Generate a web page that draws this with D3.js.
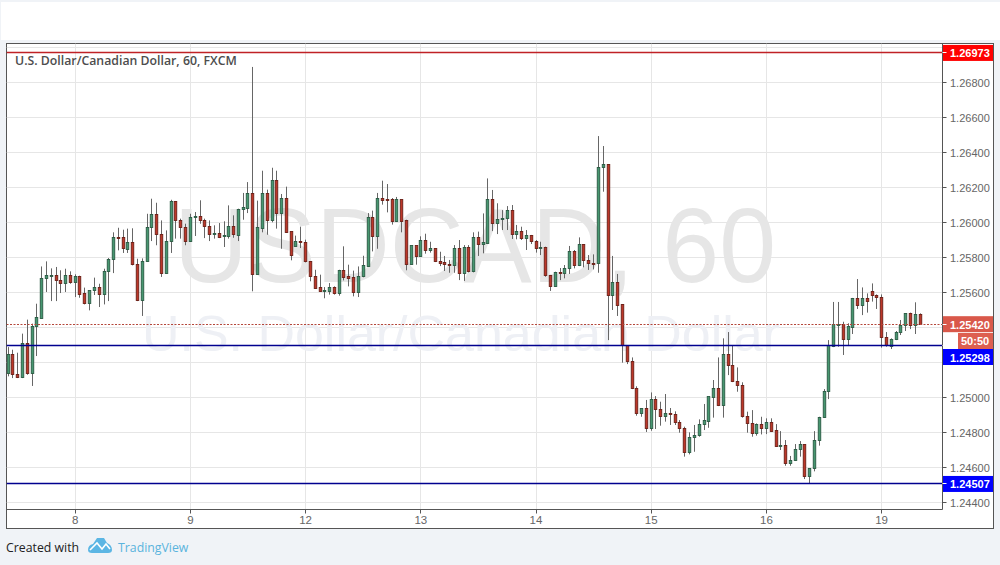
<!DOCTYPE html>
<html><head><meta charset="utf-8">
<script src="https://cdn.jsdelivr.net/npm/d3@7/dist/d3.min.js"></script>
<style>html,body{margin:0;padding:0;background:#f0f3f7;overflow:hidden}svg{display:block}</style>
</head><body><svg id="c" width="1000" height="565"></svg>
<script>
const opens=[
1.25141,1.25248,1.25131,1.25118,1.25309,1.25141,1.25404,1.25455,1.25680,1.25695,
1.25697,1.25669,1.25650,1.25697,1.25661,1.25691,1.25594,1.25541,1.25610,1.25629,
1.25592,1.25720,1.25789,1.25914,1.25914,1.25848,1.25886,1.25760,1.25554,1.25777,
1.25971,1.26046,1.25931,1.25709,1.25890,1.26120,1.26011,1.25971,1.25890,1.26027,
1.26034,1.26011,1.25979,1.25930,1.25937,1.25920,1.25922,1.25979,1.25928,1.26076,
1.26082,1.26164,1.25705,1.25968,1.26164,1.26013,1.26240,1.26053,1.26137,1.25947,
1.25865,1.25891,1.25884,1.25781,1.25695,1.25629,1.25610,1.25608,1.25629,1.25596,
1.25726,1.25691,1.25686,1.25602,1.25691,1.25750,1.26027,1.25922,1.26137,1.26131,
1.26131,1.26008,1.26131,1.26010,1.25762,1.25867,1.25808,1.25901,1.25840,1.25850,
1.25779,1.25770,1.25762,1.25754,1.25853,1.25709,1.25859,1.25720,1.25916,1.25874,
1.25880,1.26133,1.25994,1.26017,1.26023,1.26071,1.25931,1.25951,1.25909,1.25928,
1.25893,1.25851,1.25859,1.25699,1.25634,1.25716,1.25709,1.25737,1.25836,1.25754,
1.25876,1.25785,1.25768,1.25764,1.26314,1.26335,1.25583,1.25659,1.25530,1.25297,
1.25208,1.25053,1.24908,1.24939,1.24823,1.24990,1.24933,1.24891,1.24910,1.24905,
1.24859,1.24825,1.24686,1.24771,1.24783,1.24846,1.24863,1.25000,1.25055,1.24954,
1.25249,1.25185,1.25093,1.25071,1.24893,1.24853,1.24794,1.24849,1.24823,1.24859,
1.24813,1.24720,1.24728,1.24623,1.24640,1.24703,1.24733,1.24547,1.24594,1.24754,
1.24887,1.25034,1.25293,1.25417,1.25421,1.25331,1.25402,1.25564,1.25526,1.25568,
1.25606,1.25585,1.25573,1.25345,1.25295,1.25331,1.25371,1.25411,1.25482,1.25413,
1.25476];
const highs=[
1.25289,1.25274,1.25257,1.25366,1.25446,1.25423,1.25537,1.25750,1.25779,1.25739,
1.25747,1.25728,1.25737,1.25722,1.25705,1.25697,1.25629,1.25613,1.25686,1.25651,
1.25737,1.25798,1.25945,1.25971,1.25960,1.25966,1.25968,1.25794,1.25796,1.26051,
1.26137,1.26114,1.26013,1.25956,1.26131,1.26124,1.26023,1.25994,1.26051,1.26061,
1.26128,1.26023,1.26013,1.25985,1.25998,1.26008,1.26099,1.26042,1.26080,1.26170,
1.26232,1.26890,1.26126,1.26297,1.26189,1.26314,1.26297,1.26164,1.26206,1.25947,
1.25926,1.25977,1.25903,1.25781,1.25731,1.25703,1.25632,1.25655,1.25636,1.25731,
1.25865,1.25760,1.25726,1.25750,1.25811,1.26055,1.26069,1.26170,1.26240,1.26221,
1.26141,1.26147,1.26131,1.26017,1.25867,1.25867,1.25922,1.25937,1.25891,1.25853,
1.25834,1.25810,1.25787,1.25872,1.25901,1.25872,1.25872,1.25945,1.25949,1.26053,
1.26253,1.26187,1.26111,1.26072,1.26095,1.26101,1.25987,1.25977,1.25958,1.25930,
1.25901,1.25891,1.25863,1.25701,1.25720,1.25741,1.25758,1.25867,1.25844,1.25916,
1.25876,1.25815,1.25819,1.26495,1.26438,1.26335,1.25810,1.25707,1.25535,1.25297,
1.25230,1.25065,1.24939,1.24987,1.25030,1.25009,1.24977,1.25021,1.24941,1.24922,
1.24872,1.24834,1.24802,1.24844,1.24876,1.24964,1.25004,1.25101,1.25230,1.25339,
1.25375,1.25297,1.25173,1.25088,1.24920,1.24929,1.24853,1.24891,1.24882,1.24882,
1.24849,1.24809,1.24758,1.24667,1.24735,1.24752,1.24733,1.24596,1.24809,1.24891,
1.25049,1.25329,1.25547,1.25547,1.25434,1.25425,1.25570,1.25678,1.25630,1.25596,
1.25653,1.25590,1.25590,1.25375,1.25339,1.25381,1.25444,1.25482,1.25486,1.25545,
1.25482];
const lows=[
1.25122,1.25112,1.25112,1.25112,1.25131,1.25067,1.25238,1.25455,1.25604,1.25552,
1.25552,1.25598,1.25604,1.25651,1.25575,1.25571,1.25533,1.25499,1.25587,1.25518,
1.25533,1.25552,1.25712,1.25842,1.25827,1.25827,1.25756,1.25552,1.25467,1.25777,
1.25895,1.25871,1.25690,1.25709,1.25827,1.25909,1.25909,1.25871,1.25890,1.25924,
1.25994,1.25912,1.25895,1.25909,1.25912,1.25861,1.25909,1.25914,1.25895,1.26017,
1.26055,1.25608,1.25705,1.25945,1.25931,1.26002,1.25966,1.25851,1.25941,1.25785,
1.25865,1.25855,1.25773,1.25665,1.25623,1.25604,1.25568,1.25589,1.25589,1.25583,
1.25670,1.25636,1.25579,1.25575,1.25688,1.25750,1.25836,1.25851,1.26103,1.26059,
1.25989,1.26004,1.25945,1.25728,1.25762,1.25760,1.25808,1.25823,1.25829,1.25775,
1.25752,1.25724,1.25714,1.25714,1.25672,1.25667,1.25716,1.25716,1.25810,1.25825,
1.25880,1.25952,1.25935,1.25958,1.25958,1.25907,1.25905,1.25901,1.25844,1.25878,
1.25829,1.25815,1.25691,1.25610,1.25634,1.25672,1.25682,1.25707,1.25739,1.25752,
1.25745,1.25730,1.25733,1.25714,1.26177,1.25329,1.25501,1.25467,1.25200,1.25192,
1.25049,1.24897,1.24891,1.24804,1.24811,1.24821,1.24840,1.24863,1.24844,1.24844,
1.24800,1.24663,1.24676,1.24691,1.24777,1.24815,1.24828,1.24886,1.24952,1.24886,
1.25129,1.25089,1.25034,1.24886,1.24800,1.24777,1.24783,1.24790,1.24792,1.24806,
1.24720,1.24701,1.24611,1.24611,1.24638,1.24663,1.24535,1.24510,1.24579,1.24726,
1.24886,1.24992,1.25289,1.25291,1.25244,1.25295,1.25364,1.25507,1.25472,1.25486,
1.25549,1.25507,1.25286,1.25291,1.25278,1.25329,1.25358,1.25381,1.25392,1.25364,
1.25419];
const closes=[
1.25248,1.25131,1.25118,1.25309,1.25141,1.25408,1.25457,1.25680,1.25697,1.25697,
1.25667,1.25650,1.25697,1.25661,1.25691,1.25592,1.25541,1.25611,1.25629,1.25592,
1.25720,1.25789,1.25914,1.25911,1.25850,1.25886,1.25760,1.25554,1.25777,1.25971,
1.26048,1.25931,1.25709,1.25893,1.26120,1.26011,1.25970,1.25890,1.26029,1.26034,
1.26010,1.25979,1.25930,1.25939,1.25918,1.25926,1.25979,1.25930,1.26076,1.26084,
1.26164,1.25705,1.25970,1.26164,1.26013,1.26240,1.26053,1.26137,1.25945,1.25813,
1.25891,1.25884,1.25779,1.25693,1.25625,1.25608,1.25611,1.25629,1.25596,1.25728,
1.25686,1.25682,1.25602,1.25695,1.25754,1.26027,1.25922,1.26137,1.26128,1.26126,
1.26008,1.26131,1.26008,1.25762,1.25867,1.25808,1.25901,1.25842,1.25850,1.25777,
1.25764,1.25760,1.25754,1.25853,1.25709,1.25859,1.25720,1.25916,1.25874,1.25884,
1.26133,1.25994,1.26019,1.26025,1.26071,1.25931,1.25951,1.25911,1.25928,1.25893,
1.25853,1.25859,1.25697,1.25634,1.25716,1.25709,1.25739,1.25836,1.25756,1.25876,
1.25785,1.25766,1.25764,1.26316,1.26333,1.25585,1.25659,1.25526,1.25297,1.25206,
1.25053,1.24908,1.24939,1.24823,1.24990,1.24933,1.24891,1.24910,1.24903,1.24857,
1.24823,1.24686,1.24775,1.24785,1.24849,1.24867,1.25004,1.25055,1.24954,1.25249,
1.25183,1.25093,1.25069,1.24891,1.24851,1.24794,1.24848,1.24823,1.24859,1.24809,
1.24720,1.24728,1.24623,1.24642,1.24705,1.24735,1.24547,1.24596,1.24756,1.24889,
1.25036,1.25297,1.25421,1.25421,1.25331,1.25404,1.25564,1.25526,1.25568,1.25549,
1.25583,1.25571,1.25343,1.25297,1.25333,1.25375,1.25413,1.25482,1.25411,1.25476,
1.25420];
const priceTicks=[1.244,1.246,1.248,1.25,1.252,1.254,1.256,1.258,1.26,1.262,1.264,1.266,1.268,1.27];
const labelledTicks=[1.244,1.246,1.248,1.25,1.256,1.258,1.26,1.262,1.264,1.266,1.268];
const dayIndex=[14,38,62,86,110,134,158,182];
const dayLabels=["8","9","12","13","14","15","16","19"];
const resistance=1.26973, support1=1.25298, support2=1.24507, lastPrice=1.25420;
const titleText="U.S. Dollar/Canadian Dollar, 60, FXCM";
const countdown="50:50";

const L=6.5,R=942.5,T=43.5,B=509.5,OR=993.5,OB=528.5;
const svg=d3.select("#c");
const sans="'Liberation Sans',Arial,sans-serif", open="'Open Sans',sans-serif";
const y=d3.scaleLinear().domain([1.24361,1.27024]).range([B,T]);
const x=d3.scaleLinear().domain([0,190]).range([8,920]);
svg.append("rect").attr("x",1).attr("y",2).attr("width",999).attr("height",38).attr("fill","#fff");
svg.append("rect").attr("x",L).attr("y",T).attr("width",OR-L).attr("height",OB-T).attr("fill","#fff").attr("stroke","#555");
const defs=svg.append("defs");
defs.append("clipPath").attr("id","plot").append("rect").attr("x",L).attr("y",T).attr("width",R-L).attr("height",B-T);
const g=svg.append("g").attr("clip-path","url(#plot)");
const snap=v=>Math.round(v-0.5)+0.5;
g.selectAll(".gy").data(priceTicks).join("line").attr("x1",L).attr("x2",R).attr("y1",d=>snap(y(d))).attr("y2",d=>snap(y(d))).attr("stroke","#e6e6e6");
g.selectAll(".gx").data(dayIndex).join("line").attr("y1",T).attr("y2",B).attr("x1",d=>snap(x(d))).attr("x2",d=>snap(x(d))).attr("stroke","#e6e6e6");
g.append("text").attr("x",475).attr("y",282).attr("text-anchor","middle").attr("font-family",sans).attr("font-size",106).attr("fill","#e6e6e6").text("USDCAD, 60").attr("textLength",602).attr("lengthAdjust","spacingAndGlyphs");
g.append("text").attr("x",461).attr("y",351).attr("text-anchor","middle").attr("font-family",sans).attr("font-size",50).attr("fill","#eef0f5").text("U.S. Dollar/Canadian Dollar").attr("textLength",638).attr("lengthAdjust","spacingAndGlyphs");
const idx=d3.range(closes.length);
const cx=i=>snap(x(i));
g.selectAll(".w").data(idx).join("line").attr("x1",cx).attr("x2",cx)
 .attr("y1",i=>y(highs[i])).attr("y2",i=>y(lows[i])).attr("stroke","#666").attr("stroke-width",1);
g.selectAll(".b").data(idx).join("rect").attr("x",i=>cx(i)-1.25).attr("width",2.5)
 .attr("y",i=>snap(y(Math.max(opens[i],closes[i])))).attr("height",i=>Math.max(1,snap(y(Math.min(opens[i],closes[i])))-snap(y(Math.max(opens[i],closes[i])))))
 .attr("fill",i=>closes[i]>=opens[i]?"#479770":"#bc3729").attr("stroke",i=>closes[i]>=opens[i]?"#2a5a43":"#6a1f17").attr("stroke-width",.9);
g.append("line").attr("x1",L).attr("x2",R).attr("y1",snap(y(lastPrice))).attr("y2",snap(y(lastPrice))).attr("stroke","#b5473a").attr("stroke-dasharray","2 1.5");
g.append("line").attr("x1",L).attr("x2",R).attr("y1",snap(y(resistance))).attr("y2",snap(y(resistance))).attr("stroke","#c02226").attr("stroke-width",1.6);
[support1,support2].forEach(v=>g.append("line").attr("x1",L).attr("x2",R).attr("y1",snap(y(v))).attr("y2",snap(y(v))).attr("stroke","#00008f").attr("stroke-width",1.6));
svg.append("line").attr("x1",L).attr("x2",R).attr("y1",B).attr("y2",B).attr("stroke","#555");
svg.append("line").attr("x1",R).attr("x2",R).attr("y1",T).attr("y2",B).attr("stroke","#555");
svg.selectAll(".ty").data(priceTicks).join("line").attr("x1",R).attr("x2",R+4).attr("y1",d=>snap(y(d))).attr("y2",d=>snap(y(d))).attr("stroke","#555");
svg.selectAll(".ly").data(labelledTicks).join("text").attr("x",950).attr("y",d=>y(d)+4).attr("font-family",sans).attr("font-size",11).attr("fill","#666").text(d=>d.toFixed(5));
svg.selectAll(".tx").data(dayIndex).join("line").attr("y1",B).attr("y2",B+4).attr("x1",d=>snap(x(d))).attr("x2",d=>snap(x(d))).attr("stroke","#555");
svg.selectAll(".lx").data(dayIndex).join("text").attr("x",d=>x(d)).attr("y",524).attr("text-anchor","middle").attr("font-family",sans).attr("font-size",11.5).attr("fill","#666").text((d,i)=>dayLabels[i]);
svg.append("text").attr("x",15).attr("y",64.5).attr("font-family",open).attr("font-weight",600).attr("font-size",12.3).attr("fill","#4d4d4d").text(titleText);
function tag(v,cy,color){
 svg.append("rect").attr("x",R+.5).attr("y",cy-8).attr("width",OR-R-1).attr("height",16).attr("fill",color);
 svg.append("line").attr("x1",R).attr("x2",R+4).attr("y1",snap(y(v))).attr("y2",snap(y(v))).attr("stroke","#fff");
 svg.append("text").attr("x",950).attr("y",cy+4.5).attr("font-family",sans).attr("font-weight",700).attr("font-size",11).attr("fill","#fff").text(v.toFixed(5));
}
tag(resistance,y(resistance)+.5,"#ff0000");
tag(lastPrice,y(lastPrice),"#d9584a");
tag(support1,357,"#0000ff");
tag(support2,y(support2),"#0000ff");
svg.append("rect").attr("x",958).attr("y",333).attr("width",35).attr("height",16).attr("fill","#dd5f50");
svg.append("text").attr("x",961).attr("y",345).attr("font-family",sans).attr("font-weight",700).attr("font-size",11).attr("fill","#fff").text(countdown);
svg.append("text").attr("x",6).attr("y",552).attr("font-family",open).attr("font-size",12.3).attr("fill","#222").text("Created with");
svg.append("path").attr("d","M88 550 Q88 545 93 544 L97 538 L104 538 L107 543 Q112 545 112 550 Q112 553 108 553 L92 553 Q88 553 88 550Z").attr("fill","#5cb6e4");
svg.append("path").attr("d","M90 550 L97 543 L102 549 L106 544 L110 549").attr("fill","none").attr("stroke","#fff").attr("stroke-width",1.6);
svg.append("text").attr("x",118).attr("y",552).attr("font-family",open).attr("font-size",12.3).attr("fill","#5ab3dd").text("TradingView");
</script></body></html>
